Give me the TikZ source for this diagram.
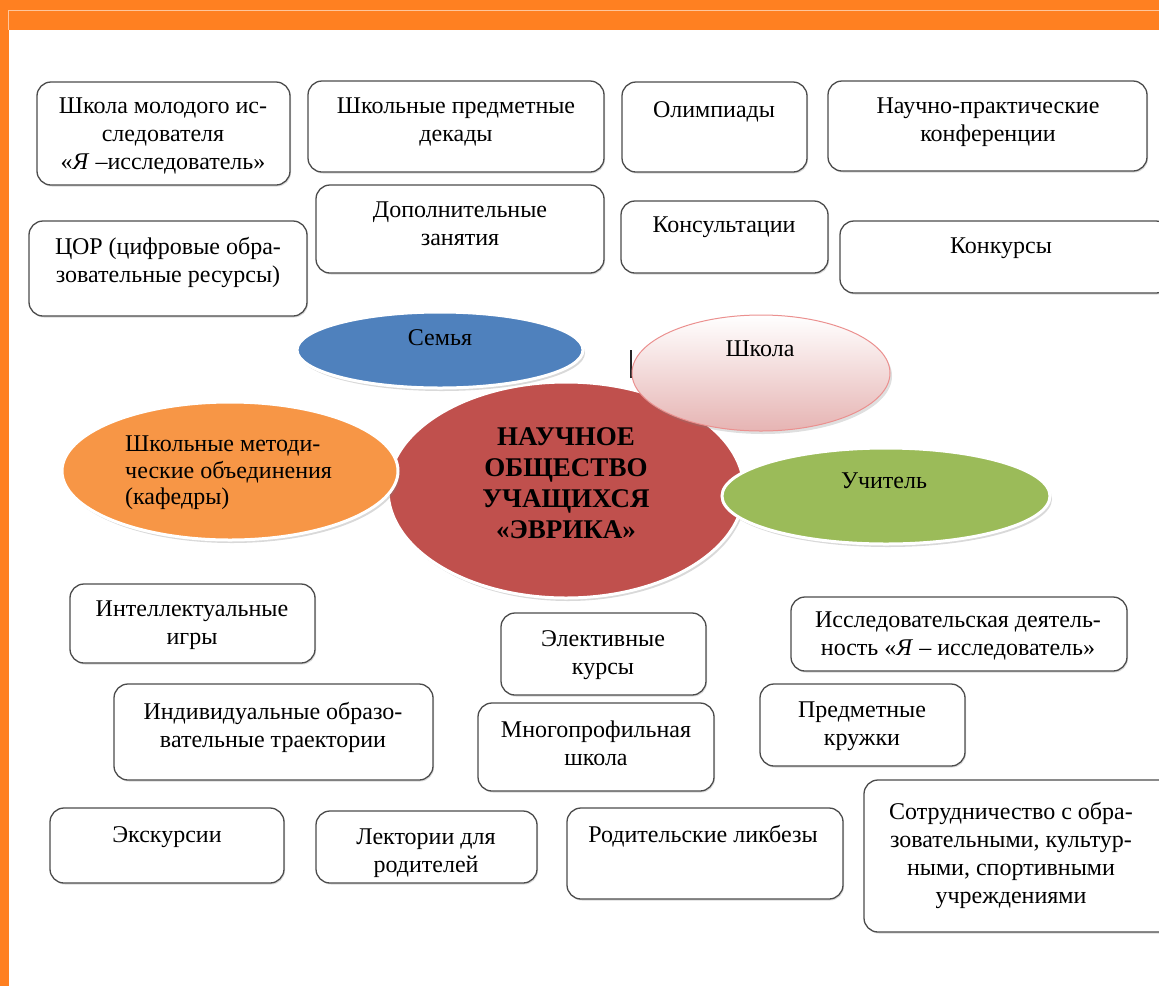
\documentclass[tikz,border=0pt]{standalone}
\usepackage{fontspec}
\setmainfont{Liberation Serif}
\usetikzlibrary{shapes.geometric,shadows}
\definecolor{frame}{HTML}{FF8021}
\definecolor{semya}{HTML}{4F81BD}
\definecolor{nou}{HTML}{C0504D}
\definecolor{kafedry}{HTML}{F79646}
\definecolor{uchitel}{HTML}{9BBB59}
\definecolor{shkola}{HTML}{E6B4B3}
\begin{document}
\begin{tikzpicture}[x=1pt,y=-1pt,
  box/.style={draw=black!70,line width=1.3pt,rounded corners=14pt,fill=white,
    drop shadow={shadow xshift=1pt,shadow yshift=-1.5pt,opacity=.3}},
  txt/.style={anchor=north,align=center,inner sep=0pt,font=\fontsize{24}{28}\selectfont},
  oval/.style={ellipse,draw=white,line width=3pt,inner sep=0pt,
    drop shadow={shadow xshift=2pt,shadow yshift=-3pt,opacity=.3}}]
\useasboundingbox (0,0) rectangle (1159,986);
\fill[frame] (0,0) rectangle (1159,30);
\fill[frame] (0,0) rectangle (9,986);
\draw[white!55!frame,line width=1pt] (1159,10) -- (8,10) -- (8,30);

\draw[box] (37,82) rectangle (290,185);
\node[txt] (molodoy) at (163,98) {Школа молодого ис-\\следователя\\«\textit{Я} –исследователь»};
\draw[box] (308,81) rectangle (604,172);
\node[txt] (dekady) at (456,98) {Школьные предметные\\декады};
\draw[box] (622,82) rectangle (807,172);
\node[txt] (olimp) at (714,101) {Олимпиады};
\draw[box] (828,81) rectangle (1147,171);
\node[txt] (konf) at (988,98) {Научно-практические\\конференции};
\draw[box] (29,221) rectangle (307,316);
\node[txt] (cor) at (168,237) {ЦОР (цифровые обра-\\зовательные ресурсы)};
\draw[box] (316,185) rectangle (604,273);
\node[txt] (dopzan) at (460,202) {Дополнительные\\занятия};
\draw[box] (621,201) rectangle (828,273);
\node[txt] (konsult) at (724,217) {Консультации};
\draw[box] (840,221) rectangle (1170,293);
\node[txt] (konkurs) at (1001,238) {Конкурсы};

\node[oval,fill=nou,minimum width=356pt,minimum height=216pt] (nou) at (566,490) {};
\node[txt,font=\fontsize{27}{31}\selectfont\bfseries] (noutxt) at (566,427) {НАУЧНОЕ\\ОБЩЕСТВО\\УЧАЩИХСЯ\\«ЭВРИКА»};
\node[oval,fill=semya,minimum width=286pt,minimum height=76pt] (semya) at (440,350) {};
\node[txt] (semyatxt) at (440,329) {Семья};
\draw[black!85,line width=2.5pt] (631,350) -- (631,378);
\node[ellipse,draw=shkola!80!red,line width=1pt,top color=white,bottom color=shkola,
  minimum width=258pt,minimum height=116pt,
  drop shadow={shadow xshift=2pt,shadow yshift=-3pt,opacity=.25}] (shkola) at (761,373) {};
\node[txt] (shkolatxt) at (760,341) {Школа};
\node[oval,fill=kafedry,minimum width=336pt,minimum height=138pt] (kafedry) at (230,471) {};
\node[txt,align=left,anchor=north west,font=\fontsize{24}{26.5}\selectfont] (kafedrytxt) at (125,436) {Школьные методи-\\ческие объединения\\(кафедры)};
\node[oval,fill=uchitel,minimum width=328pt,minimum height=96pt] (uchitel) at (886,496) {};
\node[txt] (uchiteltxt) at (884,473) {Учитель};

\draw[box] (70,584) rectangle (315,663);
\node[txt] (igry) at (192,601) {Интеллектуальные\\игры};
\draw[box] (501,613) rectangle (706,695);
\node[txt] (elektiv) at (603,630) {Элективные\\курсы};
\draw[box] (791,597) rectangle (1127,671);
\node[txt] (issled) at (958,612) {Исследовательская деятель-\\ность «\textit{Я} – исследователь»};
\draw[box] (114,684) rectangle (433,780);
\node[txt] (traekt) at (273,702) {Индивидуальные образо-\\вательные траектории};
\draw[box] (478,703) rectangle (714,791);
\node[txt] (mnogoprof) at (596,721) {Многопрофильная\\школа};
\draw[box] (760,684) rectangle (965,766);
\node[txt] (kruzhki) at (862,702) {Предметные\\кружки};
\draw[box] (50,808) rectangle (284,883);
\node[txt] (ekskurs) at (167,826) {Экскурсии};
\draw[box] (316,811) rectangle (537,883);
\node[txt] (lektorii) at (426,829) {Лектории для\\родителей};
\draw[box] (567,808) rectangle (843,899);
\node[txt] (likbez) at (703,825) {Родительские ликбезы};
\draw[box] (864,780) rectangle (1175,932);
\node[txt] (sotrud) at (1011,802) {Сотрудничество с обра-\\зовательными, культур-\\ными, спортивными\\учреждениями};
\end{tikzpicture}
\end{document}
